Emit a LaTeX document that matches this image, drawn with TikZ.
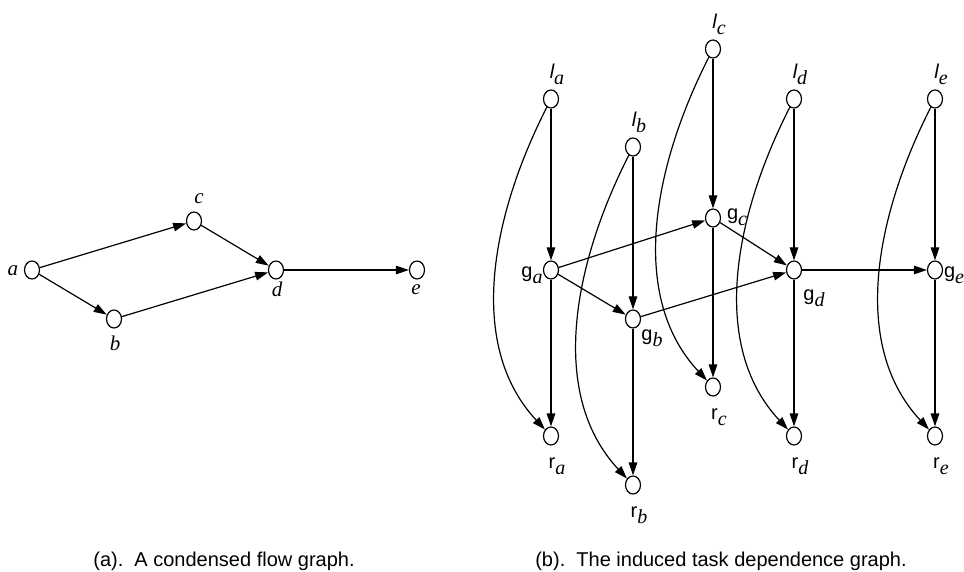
\documentclass[tikz,border=0pt]{standalone}
\usepackage{fontspec}
\setmainfont{Liberation Serif}
\setsansfont{Liberation Sans}
\usepackage{tikz}
\usetikzlibrary{arrows.meta,positioning,shapes.geometric}
\newcommand{\tsk}[2]{#1\raisebox{-6pt}{\rmfamily\itshape #2}}
\tikzset{
  fgnode/.style={draw,ellipse,line width=1.2pt,minimum width=15pt,minimum height=18pt,inner sep=0pt},
  fgflow/.style={-{Triangle[length=13pt,width=8.5pt]},line width=1.2pt},
  fglabel/.style={font=\fontsize{21}{22}\selectfont\itshape,inner sep=0pt},
  tdlabel/.style={font=\fontsize{20}{22}\selectfont\sffamily,inner sep=0pt},
  fgcap/.style={font=\fontsize{20}{22}\selectfont\sffamily,anchor=base,inner sep=0pt},
}
\begin{document}
\begin{tikzpicture}[x=1pt,y=1pt]
\useasboundingbox (0,0) rectangle (964,571);
\node[fgnode] (a) at (32,301) {};
\node[fgnode] (b) at (114,252) {};
\node[fgnode] (c) at (194,350) {};
\node[fgnode] (d) at (276,301) {};
\node[fgnode] (e) at (417,301) {};
\node[fglabel] (ta) at ([shift={(-19,-1)}]a) {a};
\node[fglabel] (tb) at ([shift={(1,-24)}]b) {b};
\node[fglabel] (tc) at ([shift={(5,22)}]c) {c};
\node[fglabel] (td) at ([shift={(1,-19)}]d) {d};
\node[fglabel] (te) at ([shift={(-1,-20)}]e) {e};
\draw[fgflow](a)--(c);\draw[fgflow](a)--(b);\draw[fgflow](b)--(d);\draw[fgflow](c)--(d);\draw[fgflow](d)--(e);
\node[fgnode] (la) at (551,472) {};
\node[fgnode] (lb) at (633,424) {};
\node[fgnode] (lc) at (713,522) {};
\node[fgnode] (ld) at (794,472) {};
\node[fgnode] (le) at (935,472) {};
\node[fgnode] (ga) at (551,301) {};
\node[fgnode] (gb) at (633,252) {};
\node[fgnode] (gc) at (713,353) {};
\node[fgnode] (gd) at (794,301) {};
\node[fgnode] (ge) at (935,301) {};
\node[fgnode] (ra) at (551,135) {};
\node[fgnode] (rb) at (633,86) {};
\node[fgnode] (rc) at (713,184) {};
\node[fgnode] (rd) at (794,135) {};
\node[fgnode] (re) at (935,135) {};
\foreach \col in {a,...,e}{
  \node[tdlabel] (tl\col) at ([shift={(6,25)}]l\col) {\tsk{\itshape l}{\col}};
  \node[tdlabel] (tr\col) at ([shift={(6,-30)}]r\col) {\tsk{r}{\col}};
  \draw[fgflow](l\col)--(g\col);\draw[fgflow](g\col)--(r\col);
  \draw[fgflow](l\col) .. controls +(243:130) and +(133:125) .. (r\col);
}
\node[tdlabel] (tga) at ([shift={(-19,-5)}]ga) {\tsk{g}{a}};
\node[tdlabel] (tgb) at ([shift={(19,-19)}]gb) {\tsk{g}{b}};
\node[tdlabel] (tgc) at ([shift={(24,1)}]gc) {\tsk{g}{c}};
\node[tdlabel] (tgd) at ([shift={(20,-28)}]gd) {\tsk{g}{d}};
\node[tdlabel] (tge) at ([shift={(19,-5)}]ge) {\tsk{g}{e}};
\draw[fgflow](ga)--(gc);\draw[fgflow](ga)--(gb);\draw[fgflow](gb)--(gd);\draw[fgflow](gc)--(gd);\draw[fgflow](gd)--(ge);
\node[fgcap] (capa) at (224,5) {(a).\ \ A condensed flow graph.};
\node[fgcap] (capb) at (721,5) {(b).\ \ The induced task dependence graph.};
\end{tikzpicture}
\end{document}
